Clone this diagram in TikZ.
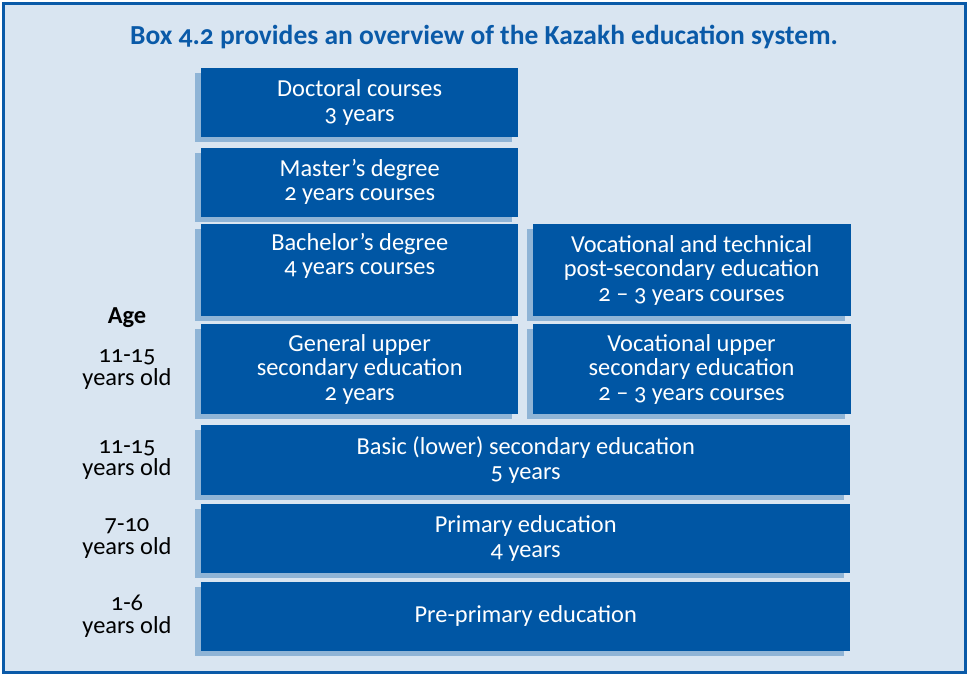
\documentclass[tikz,border=0pt]{standalone}
\usepackage{fontspec}
\setmainfont{Carlito}[Numbers=OldStyle]
\usepackage{tikz}
\usetikzlibrary{positioning}
\definecolor{BoxBlue}{HTML}{0056A4}
\definecolor{ShadeBlue}{HTML}{8FB4D6}
\definecolor{PaleBlue}{HTML}{D9E5F1}
\definecolor{FrameBlue}{HTML}{0A5AA8}

\begin{document}
\begin{tikzpicture}[x=1pt, y=-1pt,
  stage/.style={fill=BoxBlue, text=white, align=center, inner sep=0pt,
    font=\fontsize{24.4}{24.5}\selectfont,
    preaction={fill=ShadeBlue, transform canvas={xshift=-6pt, yshift=-5pt}}},
  half/.style={stage, minimum width=317pt},
  wide/.style={stage, minimum width=649pt},
  age/.style={align=center, font=\fontsize{24.4}{22.5}\selectfont}
]
\useasboundingbox (0,0) rectangle (967,674);
\fill[white] (0,0) rectangle (967,674);
\draw[line width=3pt, draw=FrameBlue, fill=PaleBlue] (3.5,3.5) rectangle (965.5,672.5);
\node[font=\bfseries\fontsize{27.5}{28}\selectfont, text=FrameBlue] (title) at (484,37)
  {Box 4.2 provides an overview of the Kazakh education system.};

% higher education
\node[half, minimum height=69pt, anchor=north west] (doc) at (201,68) {Doctoral courses\\3 years};
\node[half, minimum height=69pt, below=10pt of doc] (mas) {Master’s degree\\2 years courses};
\node[half, minimum height=92pt, below=7pt of mas] (bach) {Bachelor’s degree\\4 years courses\\\strut};
\node[half, minimum width=318pt, minimum height=92pt, right=14pt of bach] (vtech)
  {Vocational and technical\\post-secondary education\\2 – 3 years courses};

% upper secondary
\node[half, minimum height=90pt, below=8pt of bach] (gen) {General upper\\secondary education\\2 years};
\node[half, minimum width=318pt, minimum height=90pt, right=14pt of gen] (voc)
  {Vocational upper\\secondary education\\2 – 3 years courses};

% school and pre-school
\node[wide, minimum height=70pt, below=10pt of gen.south west, anchor=north west] (basic)
  {Basic (lower) secondary education\\5 years};
\node[wide, minimum height=69pt, below=9pt of basic] (prim) {Primary education\\4 years};
\node[wide, minimum height=69pt, below=8pt of prim] (pre) {Pre-primary education};

% age column
\coordinate (agecol) at (127,0);
\node[age, font=\bfseries\fontsize{24.4}{22.5}\selectfont] (agehead) at (127,318) {Age};
\node[age] (agegen) at (agecol |- gen.center) {11-15\\years old};
\node[age] (agebasic) at (agecol |- basic.center) {11-15\\years old};
\node[age] (ageprim) at (agecol |- prim.center) {7-10\\years old};
\node[age] (agepre) at (agecol |- pre.center) {1-6\\years old};
\end{tikzpicture}
\end{document}
